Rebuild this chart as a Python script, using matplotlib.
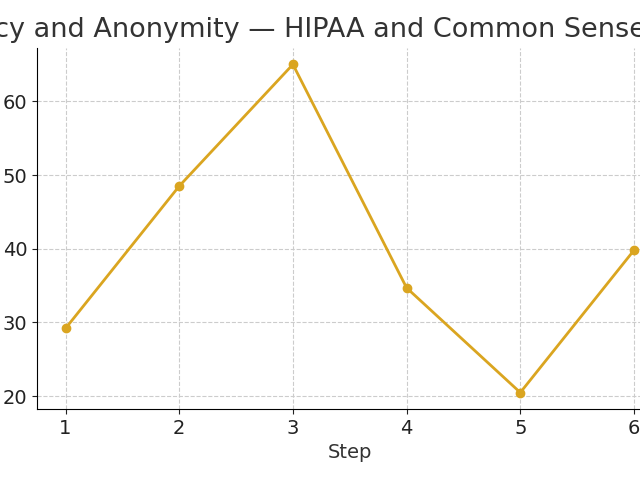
import matplotlib
matplotlib.use("Agg")
import matplotlib.pyplot as plt

steps = [1, 2, 3, 4, 5, 6]
values = [29.2, 48.5, 65.0, 34.7, 20.5, 39.8]
title = "Privacy and Anonymity — HIPAA and Common Sense"

fig = plt.figure(figsize=(6.4, 4.8), dpi=100)
ax = fig.add_axes([0.058, 0.148, 0.977, 0.752])
ax.plot(steps, values, color="#DAA520", linewidth=2, marker="o", markersize=6)
ax.set_xlabel("Step", fontsize=14, color="#333333")
fig.text(-73 / 640, 1 - 30 / 480, title, fontsize=19.5, color="#333333",
         ha="left", va="center")
ax.tick_params(labelsize=14, colors="#222222")
ax.grid(True, linestyle="--", color="#cccccc", linewidth=0.8)
ax.spines["top"].set_visible(False)
ax.spines["right"].set_visible(False)
ax.set_yticks([20, 30, 40, 50, 60])
fig.savefig("out.png", dpi=100)
